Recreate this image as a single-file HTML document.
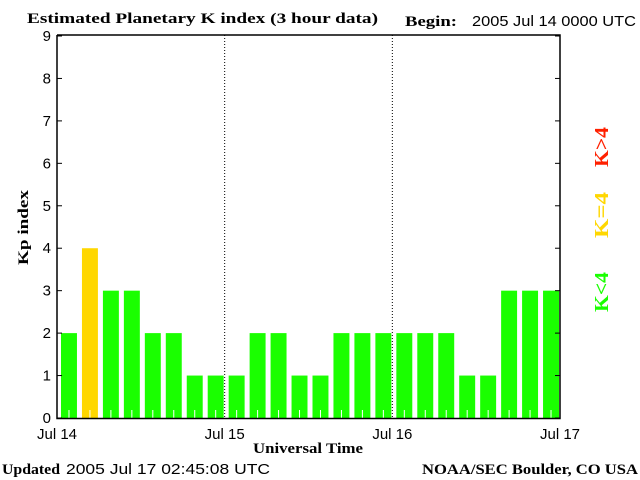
<!DOCTYPE html>
<html><head><meta charset="utf-8"><style>
body{margin:0;background:#fff;}
svg{display:block;}
.s{font-family:"Liberation Sans",sans-serif;font-size:15px;fill:#000;}
.b{font-family:"Liberation Serif",serif;font-weight:bold;font-size:15px;fill:#000;}
</style></head><body>
<svg id="c" width="640" height="480" xmlns="http://www.w3.org/2000/svg">
<text class="b" x="27" y="23" textLength="351" lengthAdjust="spacingAndGlyphs">Estimated Planetary K index (3 hour data)</text>
<text class="b" x="405" y="26" textLength="52" lengthAdjust="spacingAndGlyphs">Begin:</text>
<text class="s" x="472" y="26" textLength="164" lengthAdjust="spacingAndGlyphs">2005 Jul 14 0000 UTC</text>
<text class="b" x="2" y="474" textLength="58" lengthAdjust="spacingAndGlyphs">Updated</text>
<text class="s" x="66" y="474" textLength="204" lengthAdjust="spacingAndGlyphs">2005 Jul 17 02:45:08 UTC</text>
<text class="b" x="422" y="474" textLength="216" lengthAdjust="spacingAndGlyphs">NOAA/SEC Boulder, CO USA</text>
<text class="b" x="253" y="453" textLength="110" lengthAdjust="spacingAndGlyphs">Universal Time</text>
<text class="b" transform="translate(28,265) rotate(-90)" textLength="75" lengthAdjust="spacingAndGlyphs">Kp index</text>
<text class="b" transform="translate(608,167) rotate(-90)" textLength="40" lengthAdjust="spacingAndGlyphs" style="fill:#ff2000;font-size:20px">K&gt;4</text>
<text class="b" transform="translate(608,238) rotate(-90)" textLength="46" lengthAdjust="spacingAndGlyphs" style="fill:#ffd700;font-size:20px">K=4</text>
<text class="b" transform="translate(608,312) rotate(-90)" textLength="40" lengthAdjust="spacingAndGlyphs" style="fill:#1aff00;font-size:20px">K&lt;4</text>
<g id="g"></g>
</svg>
<script>
const dayLabels=["Jul 14","Jul 15","Jul 16","Jul 17"];
const yTicks=[0,1,2,3,4,5,6,7,8,9];
const kpValues=[2,4,3,3,2,2,1,1,1,2,2,1,1,2,2,2,2,2,2,1,1,3,3,3];
const NS="http://www.w3.org/2000/svg";
const L=57,R=560,T=35,B=418;
const barW=(R-L)/24;
function xs(i){return L+i*barW;}
function ys(v){return B-v*(B-36)/9;}
const g=document.getElementById('g');
function mk(t,a){const e=document.createElementNS(NS,t);for(const k in a)e.setAttribute(k,a[k]);g.appendChild(e);return e;}
kpValues.forEach((v,i)=>{
 const col=v>4?'#ff2000':(v==4?'#ffd700':'#1aff00');
 const r=mk('rect',{x:xs(i)+4,y:ys(v),width:barW-5,height:B-ys(v),fill:col});
 
 
 const t=mk('line',{x1:xs(i)+barW/2+1.5,x2:xs(i)+barW/2+1.5,y1:B-8,y2:B,stroke:'#fff'});
 
 
});
[1,2].forEach(d=>{
 const l=mk('line',{x1:L+d*8*barW,x2:L+d*8*barW,y1:T,y2:B,stroke:'#000','stroke-dasharray':'1,2'});
 
 
});
const ax=mk('path',{d:`M${L},${T}V${B+0.5}H${R}V${T}H${L}`,fill:'none',stroke:'#000','stroke-width':1.5});


yTicks.forEach(v=>{
 const y=ys(v);
 mk('line',{x1:L,x2:L+5,y1:y,y2:y,stroke:'#000'});
 mk('line',{x1:R-5,x2:R,y1:y,y2:y,stroke:'#000'});
 const t=mk('text',{x:L-6,y:y+5,'text-anchor':'end',class:'s'});
 t.textContent=v;
 
 
});
dayLabels.forEach((d,i)=>{
 const t=mk('text',{x:L+i*8*barW,y:439,'text-anchor':'middle',class:'s'});
 t.textContent=d;
 
 
});
</script>
</body></html>
